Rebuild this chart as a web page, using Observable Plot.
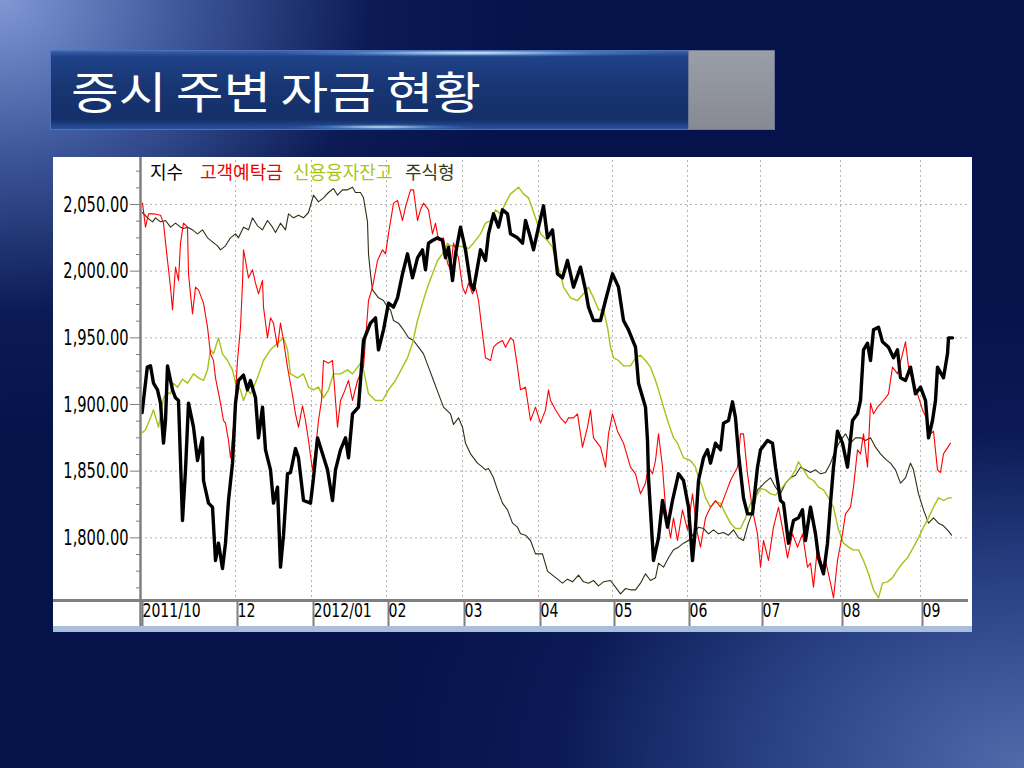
<!DOCTYPE html>
<html><head><meta charset="utf-8">
<script src="https://cdn.jsdelivr.net/npm/d3@7"></script>
<script src="https://cdn.jsdelivr.net/npm/@observablehq/plot@0.6"></script>
<style>
html,body{margin:0;padding:0;}
body{width:1024px;height:768px;overflow:hidden;position:relative;
 background:
  radial-gradient(ellipse 620px 520px at 0px 0px, rgba(128,152,212,1) 0%, rgba(70,98,168,0.85) 30%, rgba(20,40,100,0.4) 60%, rgba(8,22,80,0) 85%),
  radial-gradient(ellipse 720px 520px at 1024px 768px, rgba(82,106,170,1) 0%, rgba(50,78,148,0.8) 35%, rgba(20,40,105,0.35) 65%, rgba(8,22,80,0) 90%),
  #06124a;}
#titleBox{position:absolute;left:50px;top:50px;width:638px;height:80px;box-sizing:border-box;
 background:linear-gradient(180deg,#3b62ac 0%,#1f4288 7%,#183673 45%,#142f69 88%,#2a52a0 100%);
 border:1px solid #4f72b8;border-right:none;}
#glowTop{position:absolute;left:0;top:0;width:100%;height:6px;
 background:radial-gradient(ellipse 200px 4px at 420px 2px, rgba(220,245,255,0.95), rgba(120,190,255,0.3) 60%, rgba(0,0,0,0));}
#glowBot{position:absolute;left:0;bottom:0;width:100%;height:5px;
 background:radial-gradient(ellipse 90px 3px at 330px 3px, rgba(220,245,255,0.9), rgba(120,190,255,0.3) 60%, rgba(0,0,0,0));}
#titleGray{position:absolute;left:688px;top:50px;width:87px;height:80px;box-sizing:border-box;
 background:linear-gradient(180deg,#9a9ea6 0%,#878a92 100%);border:1px solid #6c7a98;}
#titleText{position:absolute;left:71px;top:64px;font-family:"Noto Sans CJK KR",sans-serif;font-size:44px;line-height:52px;
 color:#fff;word-spacing:-2px;white-space:nowrap;font-weight:400;transform:scaleX(1.18);transform-origin:0 0;}
#panel{position:absolute;left:53px;top:157px;width:919px;height:475px;background:#fff;
 border-bottom:6px solid #a9bddd;box-sizing:border-box;}
#chart{position:absolute;left:0;top:0;}
.lg{position:absolute;top:3px;font-family:"Noto Sans CJK KR",sans-serif;font-size:18px;line-height:22px;white-space:nowrap;}
</style></head>
<body>
<div id="titleBox"><div id="glowTop"></div><div id="glowBot"></div></div>
<div id="titleGray"></div>
<div id="titleText">증시 주변 자금 현황</div>
<div id="panel">
  <div id="chart"></div>
  <div class="lg" style="left:97px;color:#000">지수</div>
  <div class="lg" style="left:147px;color:#ee0000">고객예탁금</div>
  <div class="lg" style="left:240px;color:#a6c814">신용융자잔고</div>
  <div class="lg" style="left:352px;color:#38381a">주식형</div>
</div>
<script>
// x = trading-day position from the start of the chart (late Oct 2011), y = index level (KOSPI scale)
const monthTicks = [0, 23.75, 42.75, 61.5, 80.5, 99.5, 118, 136.75, 155, 175, 195];
const monthLabels = ["2011/10", "12", "2012/01", "02", "03", "04", "05", "06", "07", "08", "09"];
const yTicks = [1800, 1850, 1900, 1950, 2000, 2050];
const yMinorTicks = [1762.5,1775,1787.5,1812.5,1825,1837.5,1862.5,1875,1887.5,1912.5,1925,1937.5,1962.5,1975,1987.5,2012.5,2025,2037.5,2062.5,2075];

// 지수 (KOSPI)
const kospi = [[0.4,1894],[1.7,1928],[2.5,1929],[3.25,1916],[4.25,1911],[5,1901],[5.75,1871],[6.25,1888],[6.75,1929],[8,1911],[8.75,1905],[9.5,1903],[10.5,1813],[11.25,1851],[12,1901],[13.25,1883],[14.25,1858],[15.5,1875],[15.75,1843],[17,1826],[18,1823],[18.75,1783],[19.5,1796],[20.5,1777],[21.25,1796],[22,1828],[23,1856],[23.75,1901],[24.5,1918],[25.75,1922],[26.75,1911],[27.5,1918],[28.75,1905],[29.5,1875],[30.5,1898],[31.25,1866],[32.5,1851],[33.25,1826],[34.25,1838],[35,1778],[35.75,1802],[36.75,1848],[37.5,1849],[38.75,1867],[39.5,1860],[40.75,1828],[42.5,1826],[43.25,1845],[44.25,1875],[45.5,1863],[46.75,1851],[48,1828],[48.75,1851],[50,1866],[51.25,1875],[52,1860],[53,1893],[54.5,1898],[55.75,1948],[57.5,1961],[58.75,1965],[59.5,1941],[60.75,1956],[62,1976],[63.25,1973],[64.25,1980],[65.5,1998],[66.75,2013],[68,1995],[69.25,2010],[70.5,2016],[71.25,2001],[72,2021],[73,2023],[74.25,2025],[75.5,2023],[76.25,2010],[77,2018],[78,1993],[78.75,2013],[80,2033],[81.25,2016],[82.5,1991],[83.25,1986],[84.25,2003],[85,2016],[86.25,2008],[87,2028],[88.25,2043],[89.5,2033],[90.5,2046],[91.75,2043],[92.5,2028],[94.25,2025],[95.5,2021],[96.25,2038],[97.5,2025],[98.25,2016],[99.5,2033],[100.75,2049],[101.75,2025],[103,2031],[104.25,1998],[105.5,1995],[106.75,2008],[108.25,1988],[110,2003],[111.25,1986],[112,1973],[113.25,1963],[115,1963],[116.25,1978],[118,1998],[119.5,1988],[120.75,1963],[122,1956],[123.75,1943],[124.5,1916],[126.25,1898],[126.75,1873],[127,1845],[128.25,1783],[129.5,1800],[130.5,1828],[131.75,1808],[133,1828],[134.5,1848],[135.75,1843],[137,1823],[138,1783],[138.75,1808],[139.5,1843],[140.75,1860],[141.75,1866],[142.5,1856],[143.75,1871],[145,1866],[145.75,1886],[147,1888],[148,1902],[148.75,1890],[149.5,1863],[150.75,1830],[151.75,1818],[153,1818],[154.25,1853],[155,1866],[156.75,1873],[158,1871],[158.75,1853],[160,1828],[160.75,1826],[162,1796],[163.25,1813],[164.5,1815],[165.5,1821],[166.25,1798],[167.5,1823],[168.75,1803],[169.5,1785],[170.75,1773],[171.75,1796],[172.5,1826],[173.25,1853],[174.25,1880],[175.5,1871],[176.75,1853],[178,1888],[179.25,1893],[180,1903],[180.75,1941],[181.75,1946],[182.5,1933],[183.25,1956],[184.5,1958],[185.5,1947],[187,1943],[188.25,1935],[189.25,1941],[190,1920],[191.25,1918],[192.5,1928],[193.75,1908],[195,1913],[196.25,1903],[197,1875],[198,1888],[198.75,1903],[199.25,1928],[200.75,1920],[201.75,1938],[202,1950],[203,1950]];

// 고객예탁금 (customer deposits, drawn on the index scale)
const deposits = [[0.5,2051],[1.25,2033],[2,2043],[3.25,2043],[5,2042],[5.75,2036],[6.75,2008],[7.5,1988],[8,1971],[8.75,2003],[9.5,1993],[10,2021],[10.75,2036],[11.75,2033],[12,1998],[13,1968],[13.75,1988],[14.5,1986],[15.75,1976],[16.75,1958],[17.5,1938],[18.25,1933],[18.75,1920],[20,1901],[20.75,1888],[21.25,1886],[22,1873],[22.5,1860],[23.25,1883],[24.25,1933],[25,1958],[25.5,1991],[25.75,2016],[26.25,2008],[27,1995],[28,2001],[28.75,1991],[29.5,1983],[30.5,1993],[30.75,1973],[31.75,1950],[32.5,1965],[33.25,1961],[34.25,1943],[35,1961],[35.75,1948],[36.75,1928],[38,1907],[38.75,1893],[39.5,1883],[40.5,1899],[41.25,1888],[42,1873],[43,1851],[43.75,1866],[44.5,1888],[45.25,1903],[45.75,1933],[47,1931],[48,1933],[48.75,1903],[49.25,1883],[50,1903],[50.75,1908],[52,1918],[53,1903],[54.25,1918],[55.75,1928],[57,1978],[58,1988],[59.25,2008],[60.5,2016],[61.25,2013],[62,2028],[63.25,2051],[64.25,2053],[65.5,2038],[66.25,2048],[67.5,2061],[68.25,2061],[69.25,2038],[70,2046],[70.75,2051],[72,2046],[73,2028],[73.75,2036],[74.5,2023],[75.75,2025],[76.75,2006],[77.5,2001],[78.25,2021],[79.5,2010],[80.5,1988],[81.25,1983],[82,1991],[83,1983],[83.75,1988],[84.5,1978],[85.5,1953],[86.25,1935],[87.5,1933],[88.25,1943],[89.25,1946],[90.5,1948],[91.25,1943],[92.5,1950],[93.25,1948],[94.25,1928],[95,1911],[96.25,1913],[97.5,1888],[98.75,1898],[100,1886],[101.25,1896],[102,1911],[102.5,1903],[103.75,1896],[105,1890],[106.25,1886],[107,1890],[108.25,1890],[109.25,1893],[110.5,1868],[111.75,1883],[112.5,1896],[113.25,1875],[115,1868],[116.25,1853],[117,1878],[118,1893],[119.25,1880],[120.75,1871],[122.5,1853],[123.75,1848],[125,1833],[126.25,1841],[127,1853],[128,1848],[128.75,1858],[129.5,1878],[130.5,1853],[131.25,1823],[132.5,1800],[133.25,1815],[134.25,1798],[135.5,1821],[136.75,1806],[138,1833],[139.25,1803],[140,1793],[141.25,1815],[142.5,1823],[143.75,1828],[145,1823],[146.25,1833],[147.5,1843],[149.25,1853],[150,1878],[150.75,1878],[151.75,1848],[153,1821],[154.25,1803],[155,1778],[155.75,1798],[157,1783],[158.25,1808],[159.5,1823],[160.75,1803],[161.75,1785],[163,1803],[164.25,1793],[165.5,1803],[166.75,1778],[167.5,1781],[168.25,1763],[169.25,1793],[170.5,1778],[171.25,1783],[172.5,1766],[173.25,1755],[174.25,1783],[175.5,1803],[176.25,1818],[177.5,1823],[178.25,1838],[179.25,1866],[180,1863],[180.75,1878],[181.75,1853],[182.5,1901],[183.25,1893],[184.25,1898],[185.75,1903],[187,1908],[188,1928],[189.25,1923],[190.5,1938],[191.25,1947],[192,1928],[193,1918],[194.25,1908],[195.5,1896],[196.75,1888],[197.5,1878],[198.25,1880],[199.25,1851],[200,1849],[200.75,1863],[202.5,1871]];

// 신용융자잔고 (margin loan balance, drawn on the index scale)
const creditLoans = [[0.5,1879],[1.25,1881],[2.5,1890],[3.25,1896],[4.5,1883],[5.75,1905],[6.75,1909],[7.5,1908],[8.25,1916],[9.25,1913],[10.5,1919],[11.75,1916],[13.25,1923],[14.5,1920],[15.75,1918],[16.75,1926],[17.5,1941],[18.25,1938],[19.5,1950],[20.5,1938],[21.75,1933],[23,1926],[23.75,1916],[25,1911],[25.75,1903],[26.75,1911],[27.5,1908],[28.25,1913],[29.25,1920],[30.75,1933],[32.5,1941],[34.25,1946],[35.75,1950],[36.75,1941],[37.5,1923],[39.25,1920],[40.75,1923],[42,1913],[43.25,1911],[44.5,1913],[45.75,1905],[47,1911],[48.25,1923],[50,1923],[51.75,1926],[53,1923],[55,1931],[55.75,1926],[57,1908],[58.75,1903],[60.5,1903],[62,1911],[63.75,1918],[65.5,1928],[66.75,1935],[68,1946],[69.25,1963],[70.5,1976],[71.75,1988],[73,1998],[74.25,2008],[75.5,2013],[76.75,2021],[77.5,2019],[79.25,2019],[80.75,2018],[82,2017],[83.25,2021],[85,2028],[86.25,2036],[87.5,2038],[88.75,2046],[90,2043],[91.25,2051],[92.5,2058],[93.75,2061],[94.5,2063],[95.75,2058],[97,2055],[98.75,2040],[100,2028],[101.75,2023],[103,2018],[103.75,2008],[105,1998],[105.75,1988],[107.5,1980],[109.25,1978],[110.75,1983],[112,1988],[113.25,1980],[114.5,1971],[115.75,1971],[116.75,1958],[117.5,1943],[118.25,1935],[119.5,1933],[120.75,1929],[122.5,1929],[123.75,1935],[125,1937],[126.25,1933],[127.5,1928],[128.75,1918],[129.5,1911],[130.75,1898],[132,1886],[133.25,1875],[134.25,1871],[135.75,1860],[137.5,1858],[138.75,1853],[139.5,1845],[140.5,1838],[141.25,1830],[142.5,1823],[143.75,1827],[145,1826],[146.25,1818],[147.5,1811],[148.75,1807],[150,1807],[151.25,1815],[152.5,1826],[153.75,1830],[155,1837],[156.25,1836],[157.5,1833],[158.75,1832],[160,1836],[161.25,1841],[162.5,1845],[163.75,1851],[164.5,1857],[165.75,1851],[167,1845],[168.25,1843],[169.5,1838],[170.75,1836],[172,1830],[173.25,1823],[174.5,1806],[175.75,1796],[177,1793],[178.25,1791],[179.5,1791],[180.75,1783],[182,1773],[183.25,1761],[184.5,1755],[185.5,1766],[186.75,1767],[188,1770],[189.25,1776],[190.5,1781],[191.75,1785],[193.25,1793],[194.5,1800],[195.75,1808],[197,1815],[198.25,1823],[199.5,1830],[200.75,1828],[202,1830],[202.75,1830]];

// 주식형 (equity funds, drawn on the index scale)
const equityFunds = [[0.5,2044],[1.75,2040],[3,2037],[3.75,2040],[5,2037],[6.25,2038],[7.5,2033],[8.75,2036],[10,2033],[10.75,2032],[11.75,2033],[13,2031],[14.25,2028],[15.5,2031],[16.75,2025],[18,2022],[19.25,2019],[20,2016],[21.25,2019],[22.5,2025],[23.75,2028],[24.5,2025],[25.75,2033],[27,2031],[28,2040],[29.25,2034],[30.5,2031],[31.75,2038],[33,2033],[33.75,2029],[35,2036],[36.25,2031],[37,2043],[38.25,2040],[39.5,2042],[40.75,2040],[42,2044],[43.25,2057],[44.5,2052],[45.75,2055],[47,2059],[48.25,2062],[49.25,2057],[50.5,2061],[51.75,2061],[53,2063],[53.75,2059],[55,2059],[55.75,2055],[56.75,2037],[57,2013],[57.5,1998],[58,1986],[58.75,1983],[59.5,1980],[60.75,1978],[61.75,1973],[62.5,1971],[63.25,1963],[64.5,1961],[65.75,1956],[67,1950],[68.25,1948],[69.5,1943],[70.75,1938],[72,1928],[73.25,1918],[74.5,1908],[75.75,1898],[77.5,1893],[78.25,1885],[79.5,1890],[80.5,1883],[81.25,1871],[82.5,1863],[84.25,1856],[85.5,1853],[86.25,1851],[87,1852],[88.25,1845],[89.25,1836],[90.5,1826],[91.75,1821],[93,1811],[94.25,1808],[95,1803],[96.25,1802],[97.5,1798],[98.75,1788],[100.5,1788],[101.75,1775],[103,1772],[104.25,1769],[105.5,1766],[106.75,1769],[108,1767],[109.5,1772],[110.75,1767],[112,1766],[113.25,1768],[114.5,1764],[115.75,1767],[117.5,1768],[118.75,1763],[120,1758],[121.25,1762],[122.5,1761],[123.75,1761],[125,1766],[126.25,1773],[127.5,1768],[128.75,1770],[129.5,1781],[130.75,1778],[132,1785],[133.25,1791],[134.5,1793],[135.75,1796],[137,1798],[138.25,1803],[139.5,1808],[140.75,1807],[142,1803],[143.25,1806],[144.5,1803],[145.75,1804],[147,1802],[148.25,1806],[149.5,1800],[150.75,1798],[152,1811],[153.25,1821],[154.25,1836],[155,1838],[156.25,1842],[157.5,1845],[158.75,1838],[160,1833],[161.25,1841],[162.5,1845],[163.75,1847],[165,1853],[166.25,1851],[167.5,1849],[168.75,1851],[170,1848],[171.25,1849],[172.5,1856],[173.75,1866],[175,1873],[176.25,1878],[177.5,1871],[178.75,1875],[180,1875],[181.25,1873],[182.5,1875],[183.75,1868],[185,1863],[186.25,1859],[187.5,1856],[188.75,1851],[190,1841],[191.25,1845],[192.5,1856],[193.25,1851],[194.5,1833],[195.75,1821],[197,1811],[198.25,1815],[199.5,1811],[200.75,1809],[202,1805],[202.75,1802]];

const labelOf = new Map(monthTicks.map((t, i) => [t, monthLabels[i]]));
const axisFont = '"DejaVu Sans Condensed","DejaVu Sans",sans-serif';
const gray = "#7f7f7f";
const X = d => d[0], Y = d => d[1];

const chart = Plot.plot({
  width: 919, height: 469,
  marginLeft: 87, marginRight: 4, marginTop: 3, marginBottom: 26,
  x: {domain: [0, 207], label: null},
  y: {domain: [1753, 2083], label: null},
  style: {fontFamily: axisFont, fontStretch: "condensed", fontSize: "18px", color: "#000", background: "transparent", overflow: "visible"},
  marks: [
    Plot.gridY(yTicks, {stroke: "#b4b4b4", strokeOpacity: 1, strokeDasharray: "2,3"}),
    Plot.gridX(monthTicks, {stroke: "#b4b4b4", strokeOpacity: 1, strokeDasharray: "2,3"}),
    Plot.line(equityFunds, {x: X, y: Y, stroke: "#2f2f12", strokeWidth: 1.1}),
    Plot.line(creditLoans, {x: X, y: Y, stroke: "#a2c416", strokeWidth: 1.4}),
    Plot.line(deposits, {x: X, y: Y, stroke: "#ff0000", strokeWidth: 1.1}),
    Plot.line(kospi, {x: X, y: Y, stroke: "#000", strokeWidth: 3.4}),
    Plot.ruleX([0], {stroke: gray, strokeWidth: 2.5, insetTop: -3, insetBottom: -26}),
    Plot.ruleY([1753], {stroke: gray, strokeWidth: 3, insetLeft: -87}),
    Plot.axisY(yMinorTicks, {tickSize: 4, tickFormat: () => "", stroke: gray, label: null}),
    Plot.axisY(yTicks, {tickSize: 10, tickPadding: 2, tickFormat: d3.format(",.2f"), stroke: gray, fill: "#000", fontSize: 22, label: null}),
    Plot.axisX(monthTicks, {tickSize: 26, tickPadding: -24, tickFormat: d => labelOf.get(d), textAnchor: "start", dx: 2, stroke: gray, strokeWidth: 2, fill: "#000", fontSize: 20, label: null})
  ]
});
document.getElementById("chart").appendChild(chart);

// squeeze tick labels horizontally to mimic the narrow bitmap font of the original
function squeeze(sel, sx) {
  chart.querySelectorAll(sel).forEach(el => {
    const w = el.getComputedTextLength();
    if (w > 0) {
      el.setAttribute("textLength", (w * sx).toFixed(1));
      el.setAttribute("lengthAdjust", "spacingAndGlyphs");
    }
  });
}
squeeze('g[aria-label="y-axis tick label"] text', 0.74);
squeeze('g[aria-label="x-axis tick label"] text', 0.78);
</script>
</body></html>
